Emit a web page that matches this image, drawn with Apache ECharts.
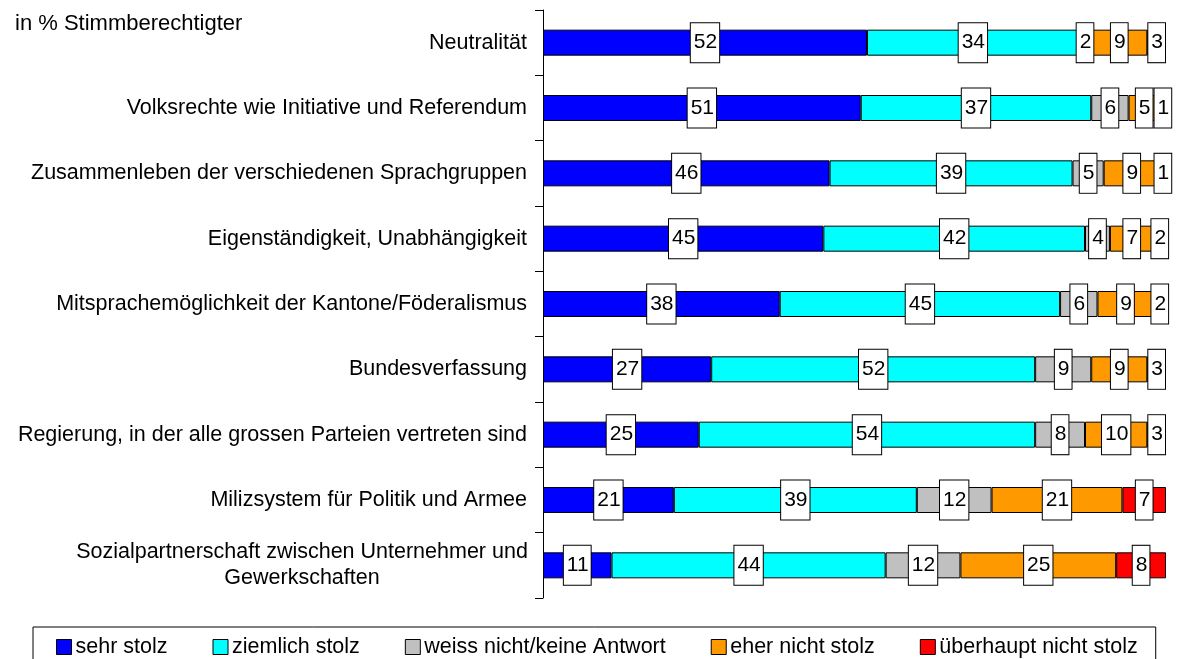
<!DOCTYPE html>
<html>
<head>
<meta charset="utf-8">
<script src="https://cdn.jsdelivr.net/npm/echarts@6/dist/echarts.min.js"></script>
<style>
  html, body { margin: 0; padding: 0; background: #fff; }
  #chart { width: 1179px; height: 659px; }
</style>
</head>
<body>
<div id="chart"></div>
<script>
// Kategorien (von oben nach unten)
const categories = [
  'Neutralität',
  'Volksrechte wie Initiative und Referendum',
  'Zusammenleben der verschiedenen Sprachgruppen',
  'Eigenständigkeit, Unabhängigkeit',
  'Mitsprachemöglichkeit der Kantone/Föderalismus',
  'Bundesverfassung',
  'Regierung, in der alle grossen Parteien vertreten sind',
  'Milizsystem für Politik und Armee',
  'Sozialpartnerschaft zwischen Unternehmer und\nGewerkschaften'
]

// Werte in %
const sehrStolz = [52, 51, 46, 45, 38, 27, 25, 21, 11]
const ziemlichStolz = [34, 37, 39, 42, 45, 52, 54, 39, 44]
const weissNicht = [2, 6, 5, 4, 6, 9, 8, 12, 12]
const eherNichtStolz = [9, 5, 9, 7, 9, 9, 10, 21, 25]
const ueberhauptNichtStolz = [3, 1, 1, 2, 2, 3, 3, 7, 8]

const seriesNames = ['sehr stolz', 'ziemlich stolz', 'weiss nicht/keine Antwort', 'eher nicht stolz', 'überhaupt nicht stolz']
const seriesData = [sehrStolz, ziemlichStolz, weissNicht, eherNichtStolz, ueberhauptNichtStolz]
const colors = ['#0000ff', '#00ffff', '#c0c0c0', '#ff9900', '#ff0000']

const font = 'Liberation Sans'

let myChart = echarts.init(document.getElementById('chart'))

let option = {
  color: colors,
  textStyle: { fontFamily: font },
  title: {
    text: 'in % Stimmberechtigter',
    left: 10,
    top: 8,
    textStyle: { fontFamily: font, fontSize: 22, fontWeight: 'normal', color: '#000' }
  },
  legend: {
    left: 33,
    top: 627,
    padding: [9, 18, 9, 23],
    borderColor: '#000',
    borderWidth: 1,
    itemWidth: 15,
    itemHeight: 15,
    itemGap: 45,
    icon: 'rect',
    itemStyle: { borderColor: '#000', borderWidth: 1 },
    textStyle: { fontFamily: font, fontSize: 21.5, color: '#000', padding: [0, 0, 0, -1] },
    data: seriesNames
  },
  grid: {
    left: 543,
    right: 13,
    top: 10,
    bottom: 61
  },
  xAxis: {
    type: 'value',
    min: 0,
    max: 100,
    show: false
  },
  yAxis: {
    type: 'category',
    inverse: true,
    data: categories,
    axisLine: { show: true, lineStyle: { color: '#000', width: 1 } },
    axisTick: { show: true, length: 8, lineStyle: { color: '#000' } },
    axisLabel: {
      color: '#000',
      fontFamily: font,
      fontSize: 21.5,
      margin: 16,
      formatter: function (v) {
        if (v.indexOf('\n') >= 0) {
          return v.split('\n').map(function (s) { return '{c|' + s + '}' }).join('\n')
        }
        return v
      },
      rich: {
        c: { width: 450, align: 'center', fontSize: 21.5, fontFamily: font, color: '#000', lineHeight: 26 }
      }
    }
  },
  series: seriesNames.map(function (name, i) {
    return {
      name: name,
      type: 'bar',
      stack: 'total',
      barWidth: 26,
      data: seriesData[i],
      itemStyle: { borderColor: '#000', borderWidth: 1 },
      label: {
        show: true,
        position: 'inside',
        color: '#000',
        fontFamily: font,
        fontSize: 21,
        lineHeight: 24,
        backgroundColor: '#fff',
        borderColor: '#000',
        borderWidth: 1,
        padding: [8, 2, 7, 3]
      },
      emphasis: { disabled: true }
    }
  })
}
myChart.setOption(option)
</script>
</body>
</html>
